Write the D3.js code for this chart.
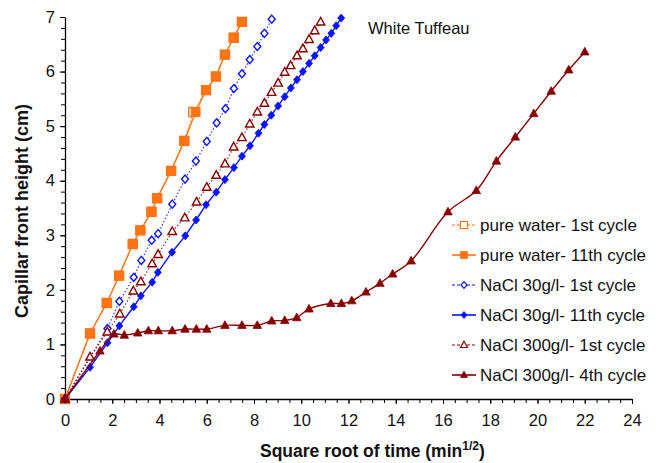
<!DOCTYPE html>
<html>
<head>
<meta charset="utf-8">
<script src="https://cdn.jsdelivr.net/npm/d3@7"></script>
<style>
  html, body { margin: 0; padding: 0; background: #fff; }
  svg { display: block; font-family: "Liberation Sans", Arial, sans-serif; }
</style>
</head>
<body>
<svg id="chart" width="659" height="463"></svg>
<script>
// Capillary rise: front height (cm) against square root of time (min^1/2)
const pureWater1stX  = [0, 1.06, 1.77, 2.29, 2.87, 3.19, 3.66, 3.90, 4.49, 5.05, 5.43, 5.97, 6.39, 6.77, 7.14, 7.49];
const pureWater1stY  = [0, 1.20, 1.76, 2.26, 2.84, 3.09, 3.43, 3.68, 4.18, 4.73, 5.26, 5.66, 5.91, 6.31, 6.62, 6.91];
const pureWater11thX = [0, 1.06, 1.77, 2.29, 2.87, 3.19, 3.66, 3.90, 4.49, 5.05, 5.53, 5.97, 6.39, 6.77, 7.14, 7.49];
const pureWater11thY = [0, 1.20, 1.76, 2.26, 2.84, 3.09, 3.43, 3.68, 4.18, 4.73, 5.26, 5.66, 5.91, 6.31, 6.62, 6.91];

const nacl30_1stX = [0, 1.80, 2.30, 2.91, 3.23, 3.67, 3.94, 4.54, 5.08, 5.54, 6.00, 6.42, 6.79, 7.15, 7.49, 7.82, 8.14, 8.44, 8.75];
const nacl30_1stY = [0, 1.29, 1.79, 2.23, 2.54, 2.91, 3.03, 3.57, 4.03, 4.36, 4.72, 5.06, 5.32, 5.69, 5.96, 6.22, 6.46, 6.70, 6.96];

const nacl30_11thX = [0, 1.06, 1.80, 2.30, 2.91, 3.21, 3.69, 3.93, 4.53, 5.09, 5.55, 5.97, 6.40, 6.77, 7.15, 7.49, 7.83, 8.19,
                      8.44, 8.73, 9.02, 9.30, 9.56, 9.82, 10.07, 10.33, 10.57, 10.82, 11.05, 11.27, 11.48, 11.69];
const nacl30_11thY = [0, 0.58, 1.03, 1.34, 1.69, 1.89, 2.14, 2.32, 2.69, 2.99, 3.28, 3.56, 3.79, 4.02, 4.24, 4.45, 4.64, 4.87,
                      5.03, 5.20, 5.37, 5.54, 5.70, 5.85, 6.00, 6.15, 6.29, 6.44, 6.58, 6.70, 6.84, 6.98];

const nacl300_1stX = [0, 1.06, 1.79, 2.32, 2.89, 3.21, 3.69, 3.94, 4.54, 5.07, 5.57, 6.00, 6.40, 6.77, 7.14, 7.49, 7.82, 8.14,
                      8.44, 8.74, 9.02, 9.30, 9.55, 9.82, 10.07, 10.33, 10.57, 10.82];
const nacl300_1stY = [0, 0.77, 1.23, 1.56, 1.98, 2.15, 2.48, 2.65, 3.07, 3.32, 3.61, 3.88, 4.10, 4.31, 4.62, 4.79, 5.04, 5.26,
                      5.42, 5.62, 5.79, 5.99, 6.11, 6.29, 6.42, 6.59, 6.75, 6.91];

const nacl300_4thX = [0, 1.48, 2.07, 2.51, 3.08, 3.53, 3.95, 4.54, 5.08, 5.56, 6.00, 6.77, 7.49, 8.14, 8.75, 9.30, 9.81, 10.33,
                      11.25, 11.70, 12.14, 12.74, 13.33, 13.87, 14.65, 16.21, 17.41, 18.26, 19.06, 19.84, 20.58, 21.32, 22.00];
const nacl300_4thY = [0, 0.88, 1.19, 1.17, 1.21, 1.25, 1.25, 1.25, 1.28, 1.28, 1.28, 1.35, 1.35, 1.35, 1.43, 1.44, 1.49, 1.65,
                      1.75, 1.75, 1.80, 1.96, 2.12, 2.29, 2.53, 3.43, 3.82, 4.36, 4.80, 5.23, 5.64, 6.03, 6.36];

const seriesNames = [
  "pure water- 1st cycle", "pure water- 11th cycle",
  "NaCl 30g/l- 1st cycle", "NaCl 30g/l- 11th cycle",
  "NaCl 300g/l- 1st cycle", "NaCl 300g/l- 4th cycle"
];
const xTickValues = [0, 2, 4, 6, 8, 10, 12, 14, 16, 18, 20, 22, 24];
const yTickValues = [0, 1, 2, 3, 4, 5, 6, 7];

const orange = "#ff7414", blue = "#0a14ff", darkRed = "#860000";
const FONT = '"Liberation Sans", Arial, sans-serif';

const series = [
  { name: seriesNames[0], xs: pureWater1stX,  ys: pureWater1stY,  color: orange,  dash: "1.5,2", marker: "square",   filled: false, curve: d3.curveLinear },
  { name: seriesNames[1], xs: pureWater11thX, ys: pureWater11thY, color: orange,  dash: null,    marker: "square",   filled: true,  curve: d3.curveLinear },
  { name: seriesNames[2], xs: nacl30_1stX,    ys: nacl30_1stY,    color: blue,    dash: "1.5,2", marker: "diamond",  filled: false, curve: d3.curveLinear },
  { name: seriesNames[3], xs: nacl30_11thX,   ys: nacl30_11thY,   color: blue,    dash: null,    marker: "diamond",  filled: true,  curve: d3.curveLinear },
  { name: seriesNames[4], xs: nacl300_1stX,   ys: nacl300_1stY,   color: darkRed, dash: "1.5,2", marker: "triangle", filled: false, curve: d3.curveLinear },
  { name: seriesNames[5], xs: nacl300_4thX,   ys: nacl300_4thY,   color: darkRed, dash: null,    marker: "triangle", filled: true,  curve: d3.curveCatmullRom.alpha(0.5) }
];

const svg = d3.select("#chart");
const x = d3.scaleLinear().domain([0, 24]).range([65, 632]);
const y = d3.scaleLinear().domain([0, 7]).range([399, 17]);

// Marker outlines, centred on the data point (w = width)
const markerPath = {
  square:   (w) => `M${-w/2},${-w/2}H${w/2}V${w/2}H${-w/2}Z`,
  diamond:  (w) => { const h = w * 1.15; return `M0,${-h/2}L${w/2},0L0,${h/2}L${-w/2},0Z`; },
  triangle: (w) => { const h = w * 0.9; return `M0,${-h*0.6}L${w/2},${h*0.4}L${-w/2},${h*0.4}Z`; }
};
const markerSize = { square: 9, diamond: 7, triangle: 8.5 };

// Axes: minor ticks, then major ticks with labels
const xAxisG = svg.append("g").attr("transform", `translate(0,${y(0)})`);
xAxisG.call(d3.axisBottom(x).tickValues(d3.range(0, 24.01, 0.5)).tickSize(4).tickFormat(""));
xAxisG.call(g => g.select(".domain").remove());
const xMajor = svg.append("g").attr("transform", `translate(0,${y(0)})`)
  .call(d3.axisBottom(x).tickValues(xTickValues).tickSize(5).tickSizeOuter(0).tickPadding(10).tickFormat(d3.format("d")));
xMajor.selectAll("text").attr("font-size", 16.5).attr("fill", "#111").attr("font-family", FONT);

const yAxisG = svg.append("g").attr("transform", `translate(${x(0)},0)`);
yAxisG.call(d3.axisLeft(y).tickValues(d3.range(0, 7.001, 0.2)).tickSize(4).tickFormat(""));
yAxisG.call(g => g.select(".domain").remove());
const yMajor = svg.append("g").attr("transform", `translate(${x(0)},0)`)
  .call(d3.axisLeft(y).tickValues(yTickValues).tickSize(5).tickSizeOuter(0).tickPadding(5).tickFormat(d3.format("d")));
yMajor.selectAll("text").attr("font-size", 16.5).attr("fill", "#111").attr("font-family", FONT);

svg.selectAll(".domain").attr("stroke", "#000").attr("stroke-width", 1.3);
svg.selectAll(".tick line").attr("stroke", "#000").attr("stroke-width", 1);

// Series lines and markers
const plot = svg.append("g");
series.forEach(s => {
  const pts = s.xs.map((v, i) => [v, s.ys[i]]);
  const line = d3.line().x(d => x(d[0])).y(d => y(d[1])).curve(s.curve);
  plot.append("path")
    .attr("d", line(pts))
    .attr("fill", "none")
    .attr("stroke", s.color)
    .attr("stroke-width", s.dash ? 1.2 : 1.4)
    .attr("stroke-dasharray", s.dash)
    .attr("opacity", s.dash ? 0.85 : 1);
  plot.selectAll(null).data(pts).enter().append("path")
    .attr("transform", d => `translate(${x(d[0])},${y(d[1])})`)
    .attr("d", markerPath[s.marker](markerSize[s.marker]))
    .attr("fill", s.filled ? s.color : "#fff")
    .attr("stroke", s.color)
    .attr("stroke-width", s.filled ? 0.8 : 1.4);
});

// Legend
const legend = svg.append("g");
series.forEach((s, i) => {
  const ly = 225 + i * 30;
  const g = legend.append("g").attr("transform", `translate(0,${ly})`);
  g.append("line").attr("x1", 452).attr("x2", 476).attr("y1", 0).attr("y2", 0)
    .attr("stroke", s.color).attr("stroke-width", s.dash ? 1.2 : 1.6)
    .attr("stroke-dasharray", s.dash ? "3,2" : null);
  g.append("path").attr("transform", "translate(464,0)")
    .attr("d", markerPath[s.marker](s.marker === "diamond" ? 6 : 7))
    .attr("fill", s.filled ? s.color : "#fff")
    .attr("stroke", s.color).attr("stroke-width", s.filled ? 0.8 : 1.2);
  g.append("text").attr("x", 480).attr("y", 6)
    .attr("font-size", 17).attr("fill", "#111").text(s.name);
});

// Sample label
svg.append("text").attr("x", 368).attr("y", 34).attr("font-size", 16.5).attr("fill", "#111").text("White Tuffeau");

// Axis titles
svg.append("text")
  .attr("transform", `translate(28,211) rotate(-90)`)
  .attr("text-anchor", "middle").attr("font-size", 18).attr("font-weight", "bold").attr("fill", "#111")
  .text("Capillar front height (cm)");

const xt = svg.append("text").attr("x", 260).attr("y", 457).attr("text-anchor", "start")
  .attr("font-size", 17.5).attr("font-weight", "bold").attr("fill", "#111");
xt.append("tspan").text("Square root of time (min");
xt.append("tspan").attr("font-size", 12).attr("dy", -7).text("1/2");
xt.append("tspan").attr("dy", 7).text(")");
</script>
</body>
</html>
